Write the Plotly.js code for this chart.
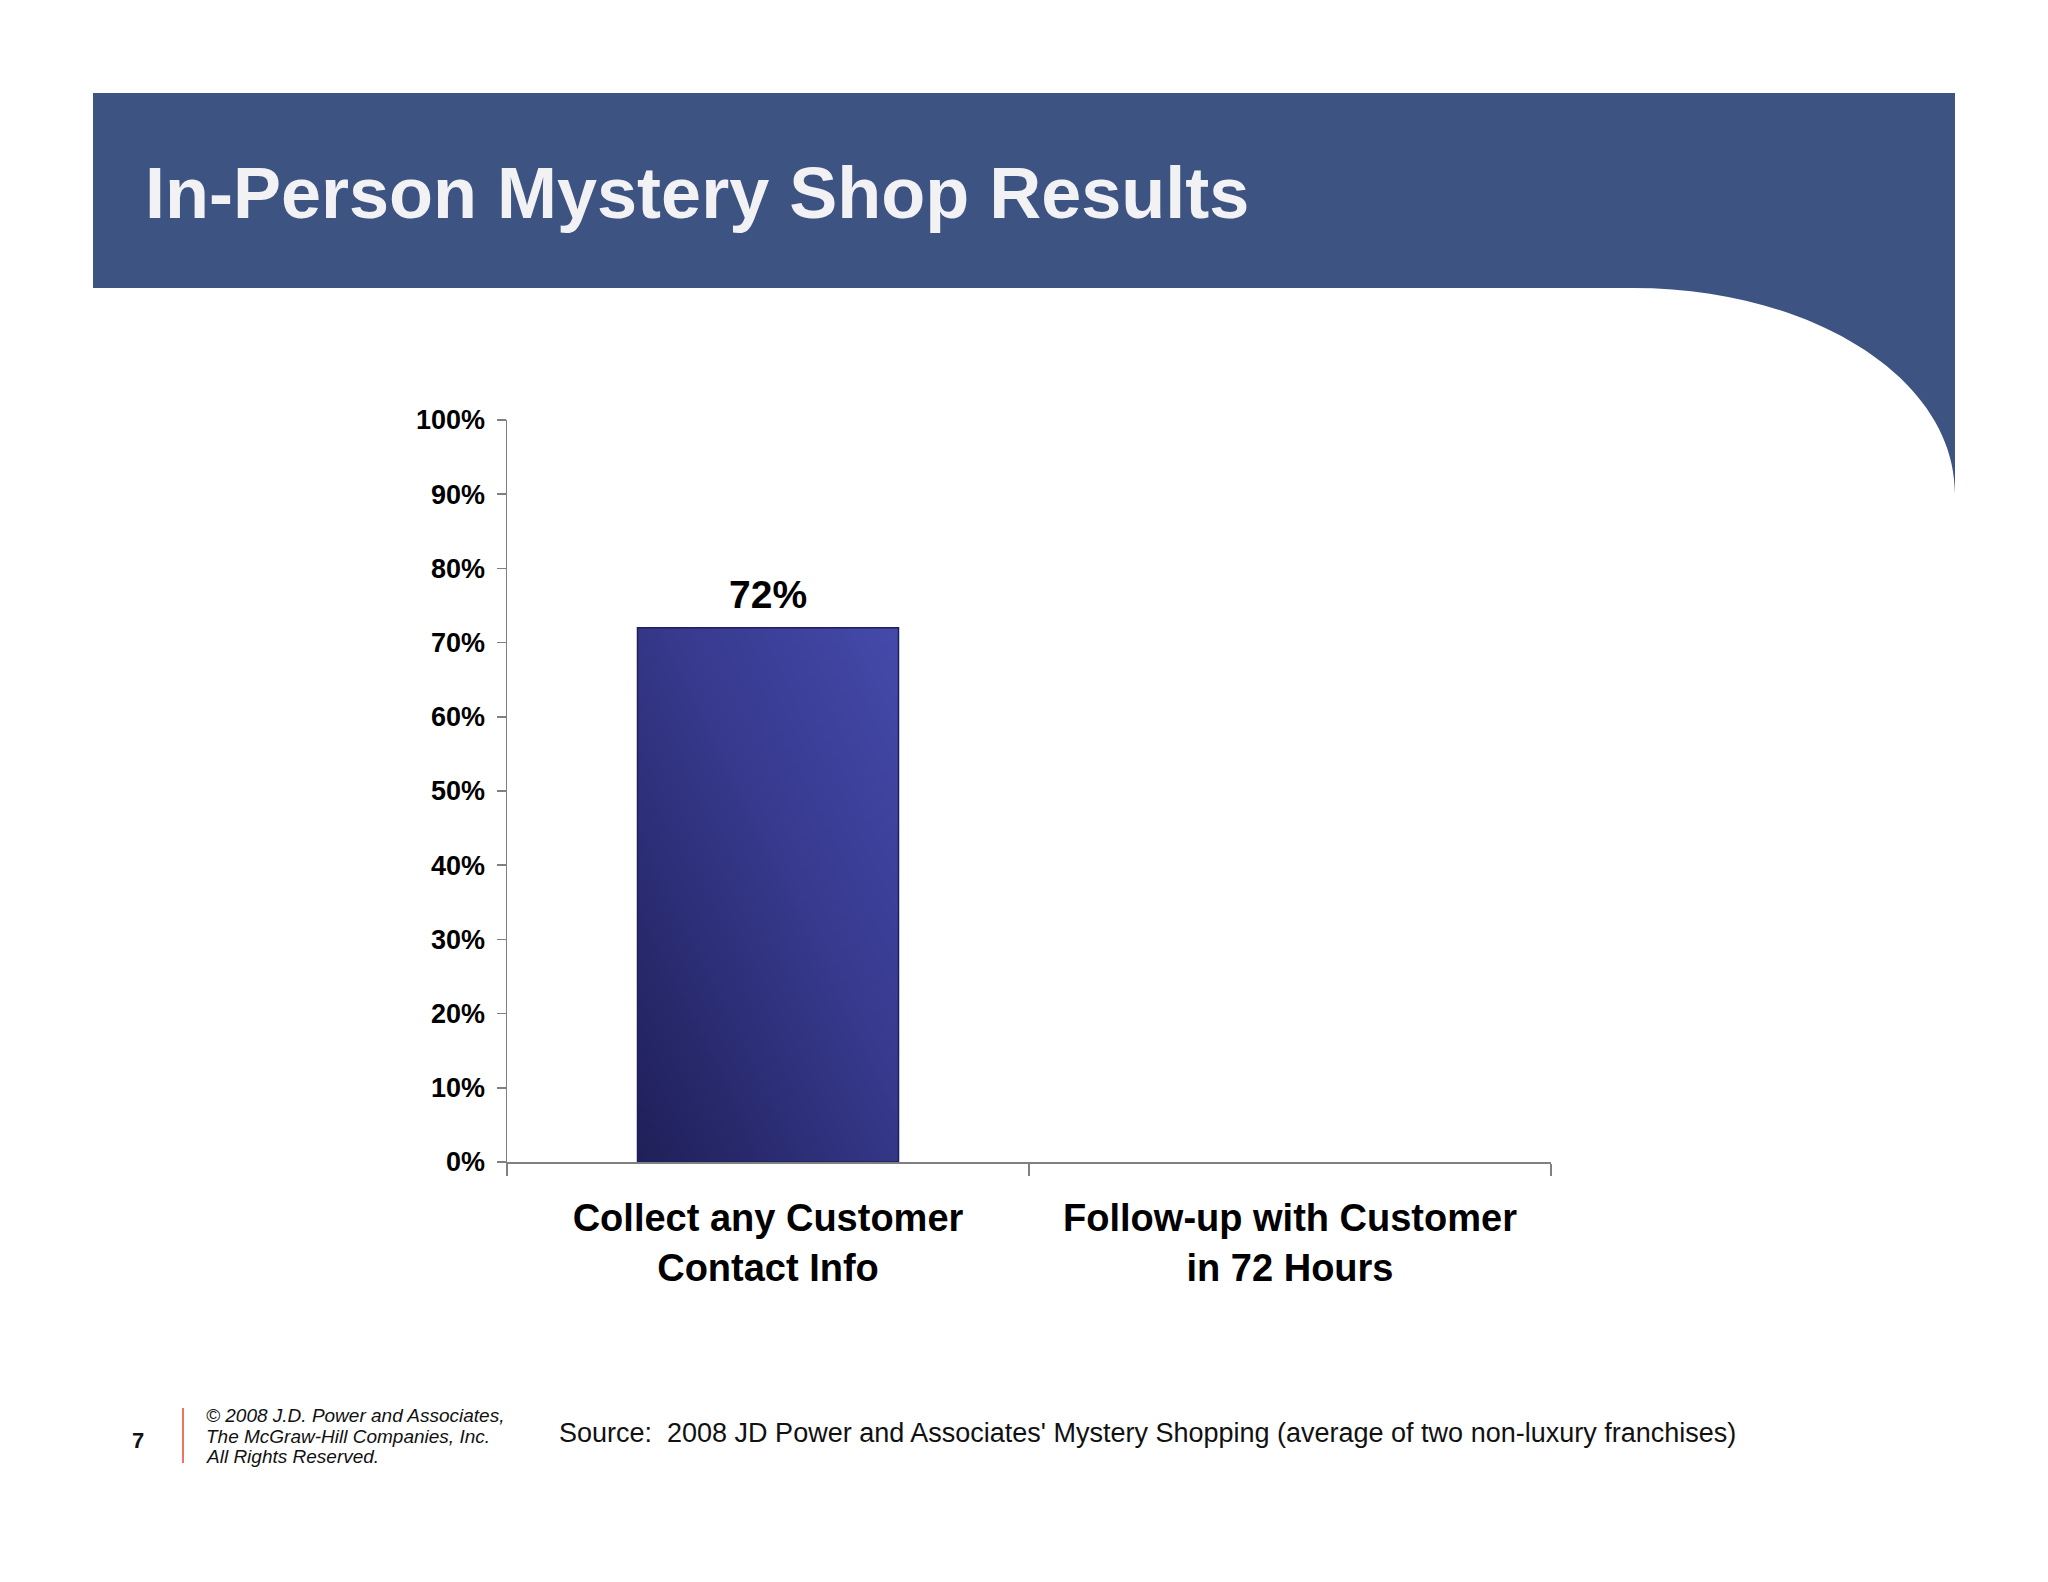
<!DOCTYPE html>
<html>
<head>
<meta charset="utf-8">
<script src="https://cdn.plot.ly/plotly-3.0.1.min.js"></script>
<style>
  html, body { margin: 0; padding: 0; background: #ffffff; }
  #chart { width: 2048px; height: 1582px; }
</style>
</head>
<body>
<div id="chart"></div>
<script>
// ---- Data ----
const categories = ['Collect any Customer<br>Contact Info', 'Follow-up with Customer<br>in 72 Hours'];
const values = [0.72, 0];
const valueLabels = ['72%', ''];
const titleText = 'In-Person Mystery Shop Results';
const sourceText = "Source:  2008 JD Power and Associates' Mystery Shopping (average of two non-luxury franchises)";
const copyrightLines = ['© 2008 J.D. Power and Associates,', 'The McGraw-Hill Companies, Inc.', 'All Rights Reserved.'];
const pageNumber = '7';

// ---- Layout geometry (pixels) ----
const FIG_W = 2048, FIG_H = 1582;
const PL = 507, PR = 1551, PT = 420, PB = 1162;
const PW = PR - PL, PH = PB - PT;
const px = X => (X - PL) / PW;
const py = Y => (PB - Y) / PH;

const FONT = 'Liberation Sans, Arial, Helvetica, sans-serif';

const bandPath =
  'M ' + px(93) + ' ' + py(93) +
  ' L ' + px(1955) + ' ' + py(93) +
  ' L ' + px(1955) + ' ' + py(494) +
  ' C ' + px(1955) + ' ' + py(378) + ' ' + px(1811) + ' ' + py(288) + ' ' + px(1633) + ' ' + py(288) +
  ' L ' + px(93) + ' ' + py(288) + ' Z';

const trace = {
  type: 'bar',
  x: categories,
  y: values,
  width: 0.5,
  marker: {
    color: '#383b8f',
    line: { color: '#1e1f5c', width: values.map(v => (v > 0 ? 1.5 : 0)) }
  },
  hoverinfo: 'skip'
};

const annotations = [
  { xref: 'paper', yref: 'paper', x: px(143), y: py(193), xanchor: 'left', yanchor: 'middle',
    text: titleText, showarrow: false,
    font: { family: FONT, size: 72, color: '#f2f2f5', weight: 'bold' } },
  { xref: 'paper', yref: 'paper', x: px(557), y: py(1433), xanchor: 'left', yanchor: 'middle',
    text: sourceText, showarrow: false,
    font: { family: FONT, size: 27, color: '#111111' } },
  { xref: 'paper', yref: 'paper', x: px(138), y: py(1440), xanchor: 'center', yanchor: 'middle',
    text: pageNumber, showarrow: false,
    font: { family: FONT, size: 22, color: '#111111', weight: 'bold' } }
];
// value labels above the bars, anchored to data coordinates
categories.forEach((c, i) => {
  if (!valueLabels[i]) return;
  annotations.push({ xref: 'x', yref: 'y', x: c, y: values[i], xanchor: 'center', yanchor: 'bottom',
    yshift: 10, text: valueLabels[i], showarrow: false,
    font: { family: FONT, size: 39, color: '#000000', weight: 'bold' } });
});
const lineYs = [1415, 1436, 1456];
copyrightLines.forEach((t, i) => {
  annotations.push({ xref: 'paper', yref: 'paper', x: px(204), y: py(lineYs[i]), xanchor: 'left', yanchor: 'middle',
    text: t, showarrow: false,
    font: { family: FONT, size: 19, color: '#111111', style: 'italic' } });
});

const layout = {
  width: FIG_W, height: FIG_H,
  margin: { l: PL, r: FIG_W - PR, t: PT, b: FIG_H - PB, pad: 0 },
  paper_bgcolor: '#ffffff',
  plot_bgcolor: 'rgba(0,0,0,0)',
  showlegend: false,
  xaxis: {
    type: 'category',
    showline: true, linecolor: '#808080', linewidth: 1.5,
    ticks: 'outside', tickson: 'boundaries', ticklen: 12, tickcolor: '#808080', tickwidth: 1.5,
    tickfont: { family: FONT, size: 38, color: '#000000', weight: 'bold' },
    ticklabelstandoff: 22,
    showgrid: false, zeroline: false, fixedrange: true
  },
  yaxis: {
    range: [0, 1], dtick: 0.1, tick0: 0, tickformat: '.0%',
    showline: true, linecolor: '#808080', linewidth: 1.5,
    ticks: 'outside', ticklen: 9, tickcolor: '#808080', tickwidth: 1.5,
    tickfont: { family: FONT, size: 27, color: '#000000', weight: 'bold' },
    ticklabelstandoff: 6,
    showgrid: false, zeroline: false, fixedrange: true
  },
  shapes: [
    { type: 'path', xref: 'paper', yref: 'paper', path: bandPath,
      fillcolor: '#3d5483', line: { width: 0 }, layer: 'below' },
    { type: 'line', xref: 'paper', yref: 'paper', x0: px(183), x1: px(183), y0: py(1408), y1: py(1463),
      line: { color: '#e8442e', width: 1.5 } }
  ],
  annotations: annotations
};

Plotly.newPlot('chart', [trace], layout, { displayModeBar: false, staticPlot: true }).then(gd => {
  // diagonal gradient fill for the bar, matching the slide's shaded bar
  const svg = gd.querySelector('svg.main-svg');
  const ns = 'http://www.w3.org/2000/svg';
  let defs = svg.querySelector('defs');
  if (!defs) { defs = document.createElementNS(ns, 'defs'); svg.insertBefore(defs, svg.firstChild); }
  const grad = document.createElementNS(ns, 'linearGradient');
  grad.setAttribute('id', 'barGrad');
  grad.setAttribute('x1', '0'); grad.setAttribute('y1', '1');
  grad.setAttribute('x2', '1'); grad.setAttribute('y2', '0');
  [['0', '#1f1f58'], ['0.55', '#36398c'], ['1', '#4549aa']].forEach(([o, c]) => {
    const s = document.createElementNS(ns, 'stop');
    s.setAttribute('offset', o); s.setAttribute('stop-color', c);
    grad.appendChild(s);
  });
  defs.appendChild(grad);
  gd.querySelectorAll('.barlayer .point path').forEach(p => { p.style.fill = 'url(#barGrad)'; });
});
</script>
</body>
</html>
